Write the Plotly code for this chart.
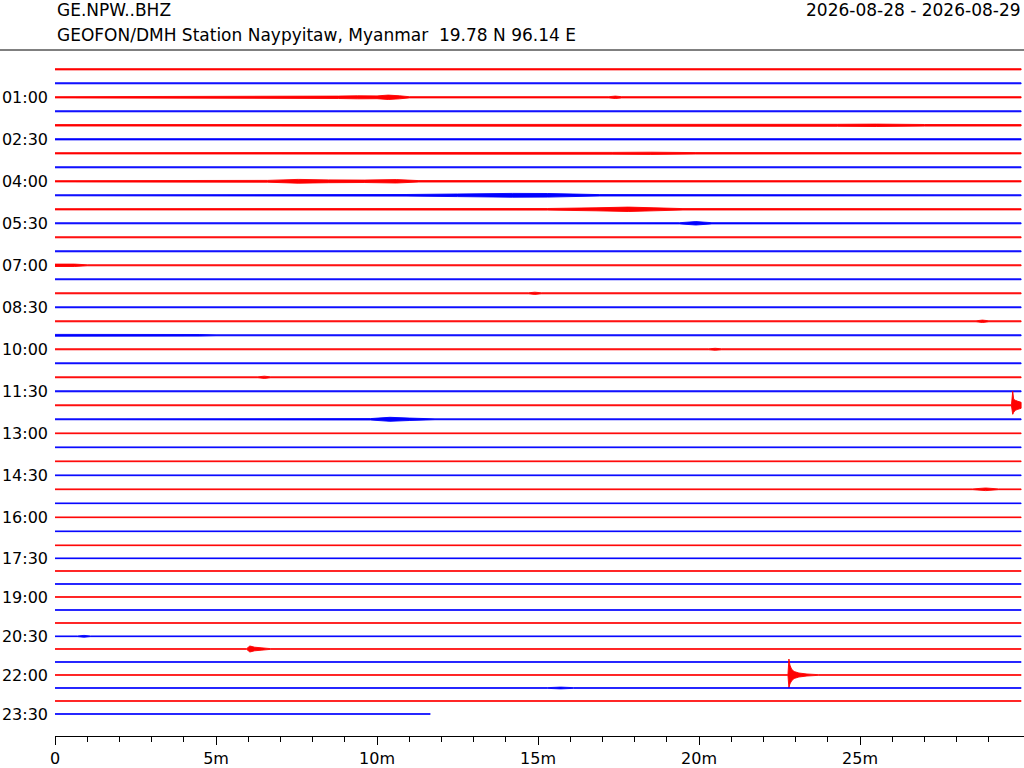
import plotly.graph_objects as go

# --- header texts ---
STATION = "GE.NPW..BHZ"
SUBTITLE = "GEOFON/DMH Station Naypyitaw, Myanmar  19.78 N 96.14 E"
DATE_RANGE = "2026-08-28 - 2026-08-29"

# --- helicorder layout: 48 rows of 30 minutes ---
ROW_MINUTES = 30
N_ROWS = 48
LAST_ROW_END = 11.65          # 23:30 row stops here (minutes)
ROW_PX = 14                   # pixel spacing of one row (scale of amplitudes)

Y_TICK_ROWS = [2, 5, 8, 11, 14, 17, 20, 23, 26, 29, 32, 35, 38, 41, 44, 47]
Y_TICK_LABELS = ["01:00", "02:30", "04:00", "05:30", "07:00", "08:30",
                 "10:00", "11:30", "13:00", "14:30", "16:00", "17:30",
                 "19:00", "20:30", "22:00", "23:30"]

X_TICKS = [0, 5, 10, 15, 20, 25]
X_TICK_LABELS = ["0", "5m", "10m", "15m", "20m", "25m"]
X_MINOR = [1, 2, 3, 4, 6, 7, 8, 9, 11, 12, 13, 14, 16, 17, 18, 19,
           21, 22, 23, 24, 26, 27, 28, 29]

# background noise half-width of each row (px)
NOISE = [0.6, 0.5, 0.6, 0.5, 0.7, 0.6, 0.6, 0.5, 0.6, 0.5, 0.6, 0.5,
         0.5, 0.5, 0.5, 0.45, 0.5, 0.45, 0.5, 0.5, 0.5, 0.45, 0.45, 0.5,
         0.45, 0.45, 0.4, 0.4, 0.4, 0.4, 0.4, 0.35, 0.35, 0.35, 0.35, 0.35,
         0.35, 0.35, 0.35, 0.35, 0.35, 0.35, 0.35, 0.35, 0.35, 0.35, 0.35, 0.35]

# mean offset of each trace from its nominal row (px, + is down)
DRIFT = [0, 0, 0, 0, 0, 0, 0, 0, 0, 0, 0, 0,
         0, 0, 0, 0, 0, 0, 0, 0, 0, 0, 0, 0,
         0, 0, 0, 0, 0, 0, 0, 0, 0, 0, 0, -1.0,
         -2.3, -3.3, -4.3, -5.3, -6.3, -7.0, -8.3, -9.3, -10.3, -11.3, -12.3, -13.3]

# signals: (row, minutes, upward half-width px, downward half-width px)
EVENTS = [
    (2, [8.8, 9.4, 10.0, 10.35, 10.7, 11.0], [1.2, 1.5, 1.4, 2.2, 1.5, 0.6], [1.2, 1.5, 1.4, 2.2, 1.5, 0.6]),
    (2, [17.2, 17.4, 17.6], [0.6, 1.2, 0.6], [0.6, 1.2, 0.6]),
    (4, [24.3, 25.5, 27.0], [1.0, 1.2, 0.8], [1.0, 1.2, 0.8]),
    (6, [17.3, 18.5, 19.9], [0.9, 1.1, 0.7], [0.9, 1.1, 0.7]),
    (8, [6.6, 7.55, 8.5, 9.6, 10.6, 11.3], [0.9, 1.9, 1.4, 1.2, 1.7, 0.7], [0.9, 1.9, 1.4, 1.2, 1.7, 0.7]),
    (9, [10.9, 12.5, 14.2, 15.3, 16.9], [0.8, 1.3, 1.9, 1.8, 0.7], [0.8, 1.3, 1.9, 1.8, 0.7]),
    (10, [15.3, 16.8, 17.8, 18.6, 19.5], [0.8, 1.5, 2.2, 1.5, 0.7], [0.8, 1.5, 2.2, 1.5, 0.7]),
    (11, [19.4, 19.9, 20.4], [0.6, 1.7, 0.6], [0.6, 1.7, 0.6]),
    (14, [0.0, 0.6, 1.0], [1.2, 1.2, 0.5], [1.2, 1.2, 0.5]),
    (16, [14.7, 14.9, 15.1], [0.5, 1.1, 0.5], [0.5, 1.1, 0.5]),
    (18, [28.6, 28.8, 29.0], [0.5, 1.2, 0.5], [0.5, 1.2, 0.5]),
    (19, [0.0, 4.5, 5.0], [0.9, 0.8, 0.5], [0.9, 0.8, 0.5]),
    (20, [20.3, 20.5, 20.7], [0.5, 1.0, 0.5], [0.5, 1.0, 0.5]),
    (22, [6.3, 6.5, 6.7], [0.45, 1.1, 0.45], [0.45, 1.1, 0.45]),
    (24, [29.70, 29.74, 29.77, 29.82, 29.9, 30.0], [0.45, 14.0, 6.0, 5.0, 4.0, 3.0], [0.45, 9.0, 7.0, 5.0, 4.0, 3.0]),
    (25, [9.8, 10.4, 11.0, 11.8], [0.7, 2.0, 1.2, 0.45], [0.7, 2.0, 1.2, 0.45]),
    (30, [28.5, 28.9, 29.3], [0.4, 1.3, 0.4], [0.4, 1.3, 0.4]),
    (41, [0.7, 0.9, 1.1], [0.35, 0.9, 0.35], [0.35, 0.9, 0.35]),
    (42, [5.95, 6.05, 6.2, 6.4, 6.7], [0.35, 3.0, 1.8, 1.2, 0.35], [0.35, 3.0, 1.8, 1.2, 0.35]),
    (44, [22.76, 22.79, 22.82, 22.87, 22.95, 23.1, 23.35, 23.7],
     [0.35, 16.0, 10.0, 6.0, 3.5, 2.0, 1.0, 0.35], [0.35, 13.0, 9.0, 6.0, 3.5, 2.0, 1.0, 0.35]),
    (45, [15.3, 15.7, 16.1], [0.35, 0.9, 0.35], [0.35, 0.9, 0.35]),
]

RED = "#ff0000"
BLUE = "#0000ff"
FONT = "DejaVu Sans"


def row_envelope(row):
    end = LAST_ROW_END if row == N_ROWS - 1 else ROW_MINUTES
    base = NOISE[row]
    t, up, dn = [0.0], [base], [base]
    for r, times, ups, dns in sorted((e for e in EVENTS if e[0] == row), key=lambda e: e[1][0]):
        if times[0] <= t[-1]:
            t, up, dn = t[:-1], up[:-1], dn[:-1]
        t = t + list(times)
        up = up + [max(base, a) for a in ups]
        dn = dn + [max(base, a) for a in dns]
    if t[-1] < end:
        t.append(end)
        up.append(base)
        dn.append(base)
    return t, up, dn


fig = go.Figure()

levels = [i + DRIFT[i] / ROW_PX for i in range(N_ROWS)]

for i in range(N_ROWS):
    t, up, dn = row_envelope(i)
    lvl = levels[i]
    xs = t + t[::-1]
    ys = [lvl - u / ROW_PX for u in up] + [lvl + d / ROW_PX for d in dn][::-1]
    color = RED if i % 2 == 0 else BLUE
    fig.add_trace(go.Scatter(
        x=xs, y=ys, mode="lines", fill="toself",
        fillcolor=color, line=dict(color=color, width=0.9, simplify=False),
        hoverinfo="skip", showlegend=False,
    ))

# plot area: 55..1024 px wide, 50..736 px tall
fig.update_layout(
    width=1024, height=768,
    margin=dict(l=55, r=0, t=50, b=32),
    paper_bgcolor="white", plot_bgcolor="white",
    font=dict(family=FONT, size=16, color="black"),
    xaxis=dict(
        range=[0, 30.09], showgrid=False, zeroline=False,
        showline=True, linecolor="black", linewidth=1,
        tickmode="array", tickvals=X_TICKS, ticktext=X_TICK_LABELS,
        ticks="outside", ticklen=8, tickwidth=1, tickcolor="black",
        minor=dict(tickmode="array", tickvals=X_MINOR, ticks="outside",
                   ticklen=5, tickwidth=1, tickcolor="black"),
        tickfont=dict(size=16),
    ),
    yaxis=dict(
        range=[(736 - 69.3) / ROW_PX, -19.3 / ROW_PX],
        showgrid=False, zeroline=False, showline=False,
        tickmode="array", tickvals=[levels[r] for r in Y_TICK_ROWS],
        ticktext=Y_TICK_LABELS, ticks="", ticklabelstandoff=6,
        tickfont=dict(size=16),
    ),
    shapes=[dict(type="line", xref="paper", yref="paper",
                 x0=-55 / 969, x1=1.0, y0=1, y1=1,
                 line=dict(color="black", width=1))],
    annotations=[
        dict(text=STATION, xref="paper", yref="paper", x=0, y=1,
             xanchor="left", yanchor="middle", yshift=40, showarrow=False,
             font=dict(size=17)),
        dict(text=SUBTITLE, xref="paper", yref="paper", x=0, y=1,
             xanchor="left", yanchor="middle", yshift=15, showarrow=False,
             font=dict(size=17)),
        dict(text=DATE_RANGE, xref="paper", yref="paper", x=1, y=1,
             xanchor="right", yanchor="middle", yshift=40, xshift=-1,
             showarrow=False, font=dict(size=17)),
    ],
)

fig.write_html("out.html", config={"displayModeBar": False},
               post_script="document.body.style.margin='0';")
